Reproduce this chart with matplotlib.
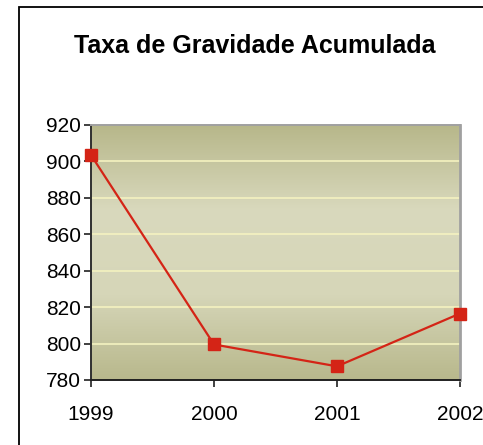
import numpy as np
import matplotlib.pyplot as plt
from matplotlib.colors import LinearSegmentedColormap
from matplotlib.patches import Rectangle

plt.rcParams['font.family'] = ['Liberation Sans', 'DejaVu Sans']

# data
years = ['1999', '2000', '2001', '2002']
taxa = [903.5, 799.5, 787.5, 816.5]
yticks = [780, 800, 820, 840, 860, 880, 900, 920]

fig = plt.figure(figsize=(4.83, 4.45), dpi=100)
# outer chart border (right/bottom edges fall outside the image)
fig.patches.append(Rectangle((19 / 483, -0.05), 1.2, 1 - 7 / 445 + 0.05,
                             transform=fig.transFigure, fill=False,
                             edgecolor='black', linewidth=1.3))

ax = fig.add_axes([91 / 483, 1 - 380 / 445, (460 - 91) / 483, (380 - 125) / 445])

# olive gradient background
cmap = LinearSegmentedColormap.from_list('olive', ['#b8b88c', '#d6d6b8', '#d9d9bd', '#b7b78a'])
grad = np.linspace(0, 1, 256).reshape(-1, 1)
ax.imshow(grad, aspect='auto', cmap=cmap, extent=[0, 3, 780, 920],
          origin='lower', zorder=0)

x = np.arange(len(years))
for yv in yticks[1:-1]:
    ax.axhline(yv, color='#f4f2c0', linewidth=1.2, zorder=1)

ax.plot(x, taxa, color='#d42416', linewidth=1.6, marker='s', markersize=8,
        markerfacecolor='#d42416', markeredgecolor='#d42416', zorder=3,
        clip_on=False)

ax.set_xlim(0, 3)
ax.set_ylim(780, 920)
ax.set_xticks(x)
ax.set_xticklabels(years)
ax.set_yticks(yticks)
ax.tick_params(axis='both', labelsize=15, length=5, width=1.2, direction='out', colors='#202020')
ax.tick_params(axis='x', pad=13)
ax.tick_params(axis='y', pad=2)
for lbl in ax.get_xticklabels() + ax.get_yticklabels():
    lbl.set_color('black')

ax.spines['left'].set_color('#303030')
ax.spines['bottom'].set_color('#202020')
ax.spines['left'].set_linewidth(1.4)
ax.spines['bottom'].set_linewidth(1.4)
ax.spines['top'].set_color('#a0a0a0')
ax.spines['right'].set_color('#a0a0a0')
ax.spines['top'].set_linewidth(1.4)
ax.spines['right'].set_linewidth(2)

fig.text(255 / 483, 1 - 46 / 445, 'Taxa de Gravidade Acumulada', ha='center', va='center',
         fontsize=18, fontweight='bold')

fig.savefig('out.png', dpi=100)
